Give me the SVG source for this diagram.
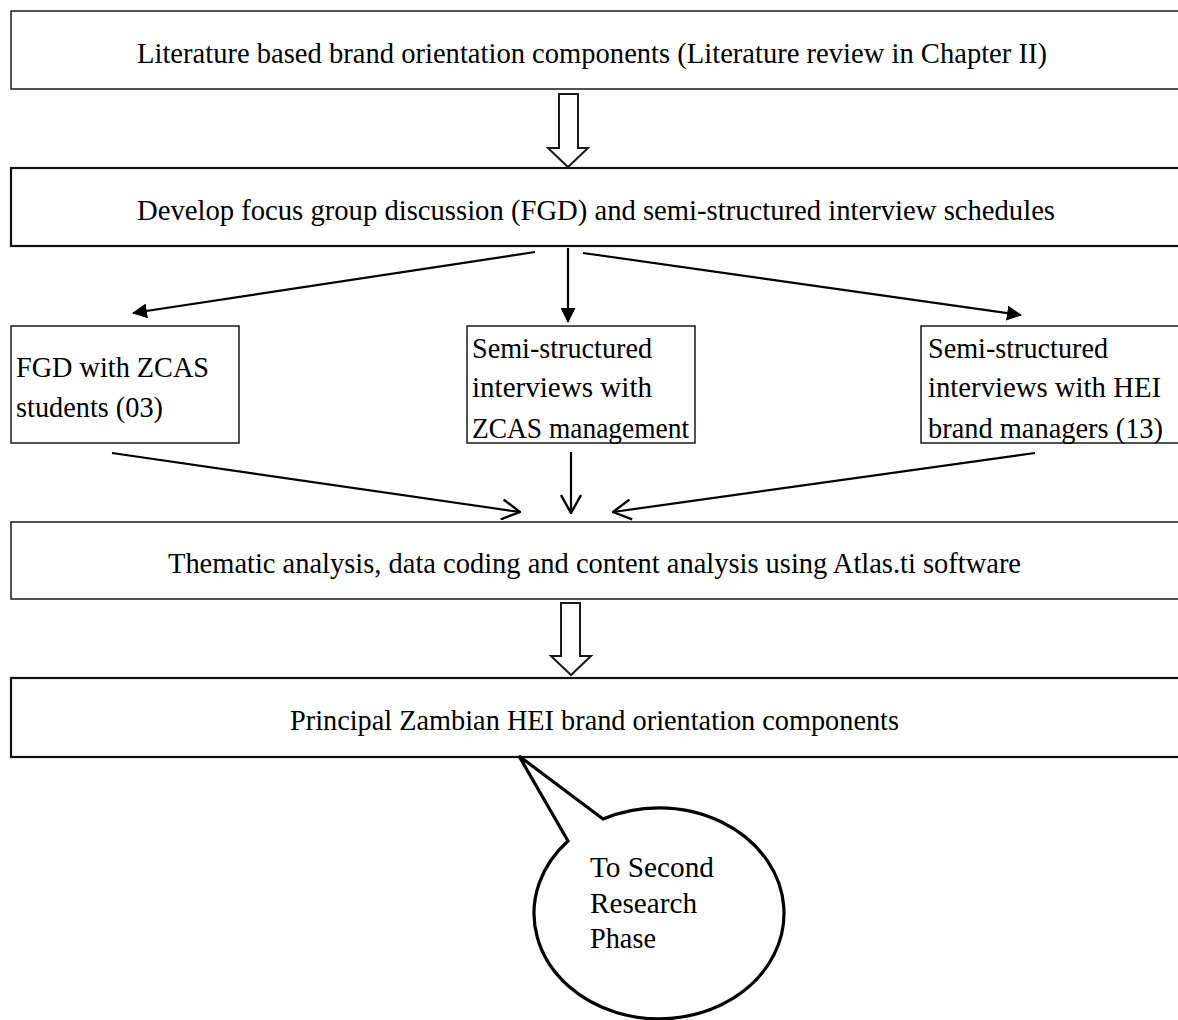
<svg xmlns="http://www.w3.org/2000/svg" width="1178" height="1020" viewBox="0 0 1178 1020">
  <defs>
    <style>
      .box { fill: #ffffff; stroke: #1a1a1a; stroke-width: 1.5; }
      .box-heavy { fill: #ffffff; stroke: #111111; stroke-width: 2.2; }
      .label { font-family: "Liberation Serif", "Times New Roman", serif; font-size: 30px; fill: #000000; }
      .conn { fill: none; stroke: #000000; stroke-width: 2.2; }
      .hollow { fill: #ffffff; stroke: #1a1a1a; stroke-width: 2; stroke-linejoin: miter; }
      .bubble { fill: #ffffff; stroke: #000000; stroke-width: 3.2; stroke-linejoin: miter; }
    </style>
    <marker id="solidHead" viewBox="0 0 15 15" refX="14" refY="7.5" markerWidth="15" markerHeight="15" markerUnits="userSpaceOnUse" orient="auto">
      <path d="M0,0 L15,7.5 L0,15 Z" fill="#000000"/>
    </marker>
    <marker id="openHead" viewBox="0 0 20 22" refX="19" refY="11" markerWidth="20" markerHeight="22" markerUnits="userSpaceOnUse" orient="auto">
      <path d="M1,1 L19,11 L1,21" fill="none" stroke="#000000" stroke-width="2.4"/>
    </marker>
  </defs>

  <rect width="1178" height="1020" fill="#ffffff"/>

  <g id="connectors">
    <!-- block arrows between the full-width stages -->
    <path class="hollow" d="M559,94 L578,94 L578,148 L588,148 L568,167 L548,148 L559,148 Z"/>
    <path class="hollow" d="M561,603 L580,603 L580,656 L591,656 L571,675 L551,656 L561,656 Z"/>
    <!-- fan-out to the three data collection methods -->
    <line class="conn" x1="535" y1="252" x2="133" y2="313" marker-end="url(#solidHead)"/>
    <line class="conn" x1="568" y1="248" x2="568" y2="322" marker-end="url(#solidHead)"/>
    <line class="conn" x1="583" y1="253" x2="1021" y2="315" marker-end="url(#solidHead)"/>
    <!-- fan-in to the analysis stage -->
    <line class="conn" x1="112" y1="453" x2="520" y2="512" marker-end="url(#openHead)"/>
    <line class="conn" x1="571" y1="452" x2="571" y2="513" marker-end="url(#openHead)"/>
    <line class="conn" x1="1035" y1="453" x2="613" y2="512" marker-end="url(#openHead)"/>
  </g>

  <g id="literature">
    <rect class="box" x="11" y="11" width="1190" height="78"/>
    <text class="label" x="137" y="63" textLength="910" lengthAdjust="spacingAndGlyphs">Literature based brand orientation components (Literature review in Chapter II)</text>
  </g>

  <g id="develop">
    <rect class="box-heavy" x="11" y="168" width="1190" height="78"/>
    <text class="label" x="137" y="220" textLength="918" lengthAdjust="spacingAndGlyphs">Develop focus group discussion (FGD) and semi-structured interview schedules</text>
  </g>

  <g id="fgd">
    <rect class="box" x="11" y="326" width="228" height="117"/>
    <text class="label" x="16" y="377" textLength="193" lengthAdjust="spacingAndGlyphs">FGD with ZCAS</text>
    <text class="label" x="16" y="417" textLength="147" lengthAdjust="spacingAndGlyphs">students (03)</text>
  </g>

  <g id="management">
    <rect class="box" x="467" y="326" width="228" height="117"/>
    <text class="label" x="472" y="358" textLength="180" lengthAdjust="spacingAndGlyphs">Semi-structured</text>
    <text class="label" x="472" y="397" textLength="180" lengthAdjust="spacingAndGlyphs">interviews with</text>
    <text class="label" x="472" y="438" textLength="217" lengthAdjust="spacingAndGlyphs">ZCAS management</text>
  </g>

  <g id="brand-managers">
    <rect class="box" x="921" y="326" width="280" height="117"/>
    <text class="label" x="928" y="358" textLength="180" lengthAdjust="spacingAndGlyphs">Semi-structured</text>
    <text class="label" x="928" y="397" textLength="233" lengthAdjust="spacingAndGlyphs">interviews with HEI</text>
    <text class="label" x="928" y="438" textLength="235" lengthAdjust="spacingAndGlyphs">brand managers (13)</text>
  </g>

  <g id="analysis">
    <rect class="box" x="11" y="522" width="1190" height="77"/>
    <text class="label" x="168" y="573" textLength="853" lengthAdjust="spacingAndGlyphs">Thematic analysis, data coding and content analysis using Atlas.ti software</text>
  </g>

  <g id="components">
    <rect class="box-heavy" x="11" y="678" width="1190" height="79"/>
    <text class="label" x="290" y="730" textLength="609" lengthAdjust="spacingAndGlyphs">Principal Zambian HEI brand orientation components</text>
  </g>

  <g id="second-phase">
    <path class="bubble" d="M568,841 L519,756 L603,819 A125,105.5 0 1 1 568,841 Z"/>
    <text class="label" x="590" y="877" textLength="124" lengthAdjust="spacingAndGlyphs">To Second</text>
    <text class="label" x="590" y="913" textLength="107" lengthAdjust="spacingAndGlyphs">Research</text>
    <text class="label" x="590" y="948" textLength="66" lengthAdjust="spacingAndGlyphs">Phase</text>
  </g>
</svg>
